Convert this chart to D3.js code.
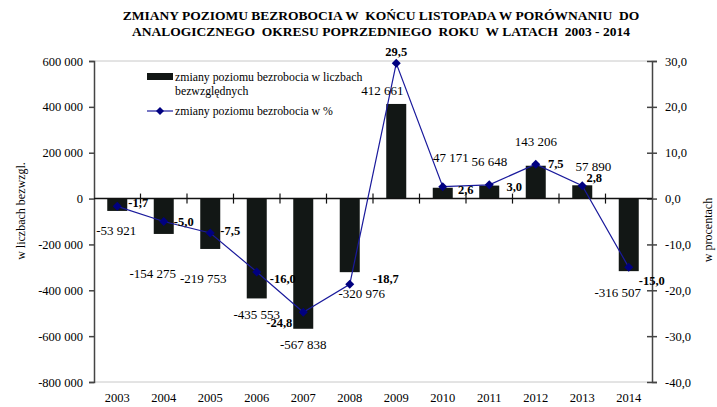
<!DOCTYPE html>
<html>
<head>
<meta charset="utf-8">
<script src="https://cdn.jsdelivr.net/npm/d3@7"></script>
<style>
  body { margin: 0; background: #fff; }
  svg text { font-family: "Liberation Serif", "Times New Roman", serif; fill: #000; }
</style>
</head>
<body>
<svg id="chart" width="717" height="407"></svg>
<script>
const years = ["2003", "2004", "2005", "2006", "2007", "2008", "2009", "2010", "2011", "2012", "2013", "2014"];
const absChange = [-53921, -154275, -219753, -435553, -567838, -320976, 412661, 47171, 56648, 143206, 57890, -316507];
const pctChange = [-1.7, -5.0, -7.5, -16.0, -24.8, -18.7, 29.5, 2.6, 3.0, 7.5, 2.8, -15.0];
const leftTicks = [600000, 400000, 200000, 0, -200000, -400000, -600000, -800000];
const rightTicks = [30, 20, 10, 0, -10, -20, -30, -40];

// label offsets (dx, dy) relative to bar end / point, hand placed like the original
const absLabelPos = [[-1, 24], [-11, 44], [-7, 34], [0, 21], [0, 20], [12, 26], [-14, -9], [8, -26], [0, -20], [0, -20], [11, -14], [-11, 26]];
const pctLabelPos = [[21, 1], [20, 4], [20, 2], [26, 11], [-24, 15], [36, -1], [0, -7], [23, 7], [25, 6], [20, 4], [12, -4], [23, 18]];

const pl = d3.formatLocale({decimal: ",", thousands: "\u00a0", grouping: [3], currency: ["", ""], minus: "-"});
const fmtAbs = pl.format(",d");
const fmtPct = pl.format(".1f");

const svg = d3.select("#chart");
const margin = {left: 94, right: 65, top: 61, bottom: 25};
const width = 717, height = 407;

const x = d3.scaleBand().domain(years).range([margin.left, width - margin.right]);
const yL = d3.scaleLinear().domain([-800000, 600000]).range([height - margin.bottom, margin.top]);
const yR = d3.scaleLinear().domain([-40, 30]).range([height - margin.bottom, margin.top]);

// title
const title = svg.append("text")
  .attr("text-anchor", "middle")
  .style("font-weight", "bold")
  .style("font-size", "13.5px")
  .style("white-space", "pre");
title.append("tspan").attr("x", 381).attr("y", 20).text("ZMIANY POZIOMU BEZROBOCIA W  KOŃCU LISTOPADA W PORÓWNANIU  DO");
title.append("tspan").attr("x", 381).attr("y", 36).text("ANALOGICZNEGO  OKRESU POPRZEDNIEGO  ROKU  W LATACH  2003 - 2014");

// plot frame top / bottom (light grey)
svg.append("g").selectAll("line")
  .data([600000, -800000])
  .join("line")
  .attr("x1", margin.left).attr("x2", width - margin.right)
  .attr("y1", d => yL(d)).attr("y2", d => yL(d))
  .attr("stroke", "#c8c8c8").attr("stroke-width", 1);

// bars
svg.append("g").selectAll("rect")
  .data(absChange)
  .join("rect")
  .attr("x", (d, i) => x(years[i]) + x.bandwidth() / 2 - 10)
  .attr("width", 20)
  .attr("y", d => Math.min(yL(d), yL(0)))
  .attr("height", d => Math.abs(yL(d) - yL(0)))
  .attr("fill", "#121715");

// left axis
const leftAxis = svg.append("g")
  .attr("transform", "translate(" + margin.left + ",0)")
  .call(d3.axisLeft(yL).tickValues(leftTicks).tickSize(5).tickPadding(6).tickFormat(fmtAbs));
leftAxis.select(".domain").attr("stroke", "#444").attr("stroke-width", 1.5);
leftAxis.selectAll(".tick line").attr("stroke", "#444").attr("stroke-width", 1.5);
leftAxis.selectAll("text").style("font-size", "12.5px");

// right axis
const rightAxis = svg.append("g")
  .attr("transform", "translate(" + (width - margin.right) + ",0)")
  .call(d3.axisRight(yR).tickValues(rightTicks).tickSize(5).tickPadding(8).tickFormat(fmtPct));
rightAxis.select(".domain").attr("stroke", "#444").attr("stroke-width", 1.5);
rightAxis.selectAll(".tick line").attr("stroke", "#444").attr("stroke-width", 1.5).attr("x1", -5);
rightAxis.selectAll("text").style("font-size", "12.5px");

// zero line with category ticks
const zero = svg.append("g");
zero.append("line")
  .attr("x1", margin.left).attr("x2", width - margin.right)
  .attr("y1", yL(0)).attr("y2", yL(0))
  .attr("stroke", "#111").attr("stroke-width", 1.5);
zero.selectAll("line.cat")
  .data(years.slice(1))
  .join("line")
  .attr("class", "cat")
  .attr("x1", d => x(d)).attr("x2", d => x(d))
  .attr("y1", yL(0) - 5).attr("y2", yL(0) + 5)
  .attr("stroke", "#111").attr("stroke-width", 1.2);

// x labels
svg.append("g").selectAll("text")
  .data(years)
  .join("text")
  .attr("x", d => x(d) + x.bandwidth() / 2)
  .attr("y", 402)
  .attr("text-anchor", "middle")
  .style("font-size", "12.5px")
  .text(d => d);

// percent line
const line = d3.line()
  .x((d, i) => x(years[i]) + x.bandwidth() / 2)
  .y(d => yR(d));
svg.append("path")
  .datum(pctChange)
  .attr("d", line)
  .attr("fill", "none")
  .attr("stroke", "#1a1a9c")
  .attr("stroke-width", 1.2);
svg.append("g").selectAll("path")
  .data(pctChange)
  .join("path")
  .attr("transform", (d, i) => "translate(" + (x(years[i]) + x.bandwidth() / 2) + "," + yR(d) + ")")
  .attr("d", "M0,-4.5L4.5,0L0,4.5L-4.5,0Z")
  .attr("fill", "#000080");

// bar value labels
svg.append("g").selectAll("text")
  .data(absChange)
  .join("text")
  .attr("x", (d, i) => x(years[i]) + x.bandwidth() / 2 + absLabelPos[i][0])
  .attr("y", (d, i) => yL(d) + absLabelPos[i][1])
  .attr("text-anchor", "middle")
  .style("font-size", "13px")
  .text(d => fmtAbs(d));

// percent labels
svg.append("g").selectAll("text")
  .data(pctChange)
  .join("text")
  .attr("x", (d, i) => x(years[i]) + x.bandwidth() / 2 + pctLabelPos[i][0])
  .attr("y", (d, i) => yR(d) + pctLabelPos[i][1])
  .attr("text-anchor", "middle")
  .style("font-size", "12.5px")
  .style("font-weight", "bold")
  .text(d => fmtPct(d));

// axis titles
svg.append("text")
  .attr("transform", "translate(25,211)rotate(-90)")
  .attr("text-anchor", "middle")
  .style("font-size", "12px")
  .text("w liczbach bezwzgl.");
svg.append("text")
  .attr("transform", "translate(712,230)rotate(-90)")
  .attr("text-anchor", "middle")
  .style("font-size", "12px")
  .text("w procentach");

// legend
const legend = svg.append("g");
legend.append("rect")
  .attr("x", 147).attr("y", 73).attr("width", 26).attr("height", 7)
  .attr("fill", "#121715");
legend.append("text").attr("x", 175).attr("y", 81).style("font-size", "11.8px")
  .text("zmiany poziomu bezrobocia w liczbach");
legend.append("text").attr("x", 175).attr("y", 95).style("font-size", "11.8px")
  .text("bezwzględnych");
legend.append("line")
  .attr("x1", 147).attr("x2", 173).attr("y1", 111).attr("y2", 111)
  .attr("stroke", "#1a1a9c").attr("stroke-width", 1.2);
legend.append("path")
  .attr("transform", "translate(160,111)")
  .attr("d", "M0,-4L4,0L0,4L-4,0Z")
  .attr("fill", "#000080");
legend.append("text").attr("x", 175).attr("y", 115).style("font-size", "11.8px")
  .text("zmiany poziomu bezrobocia w %");
</script>
</body>
</html>
